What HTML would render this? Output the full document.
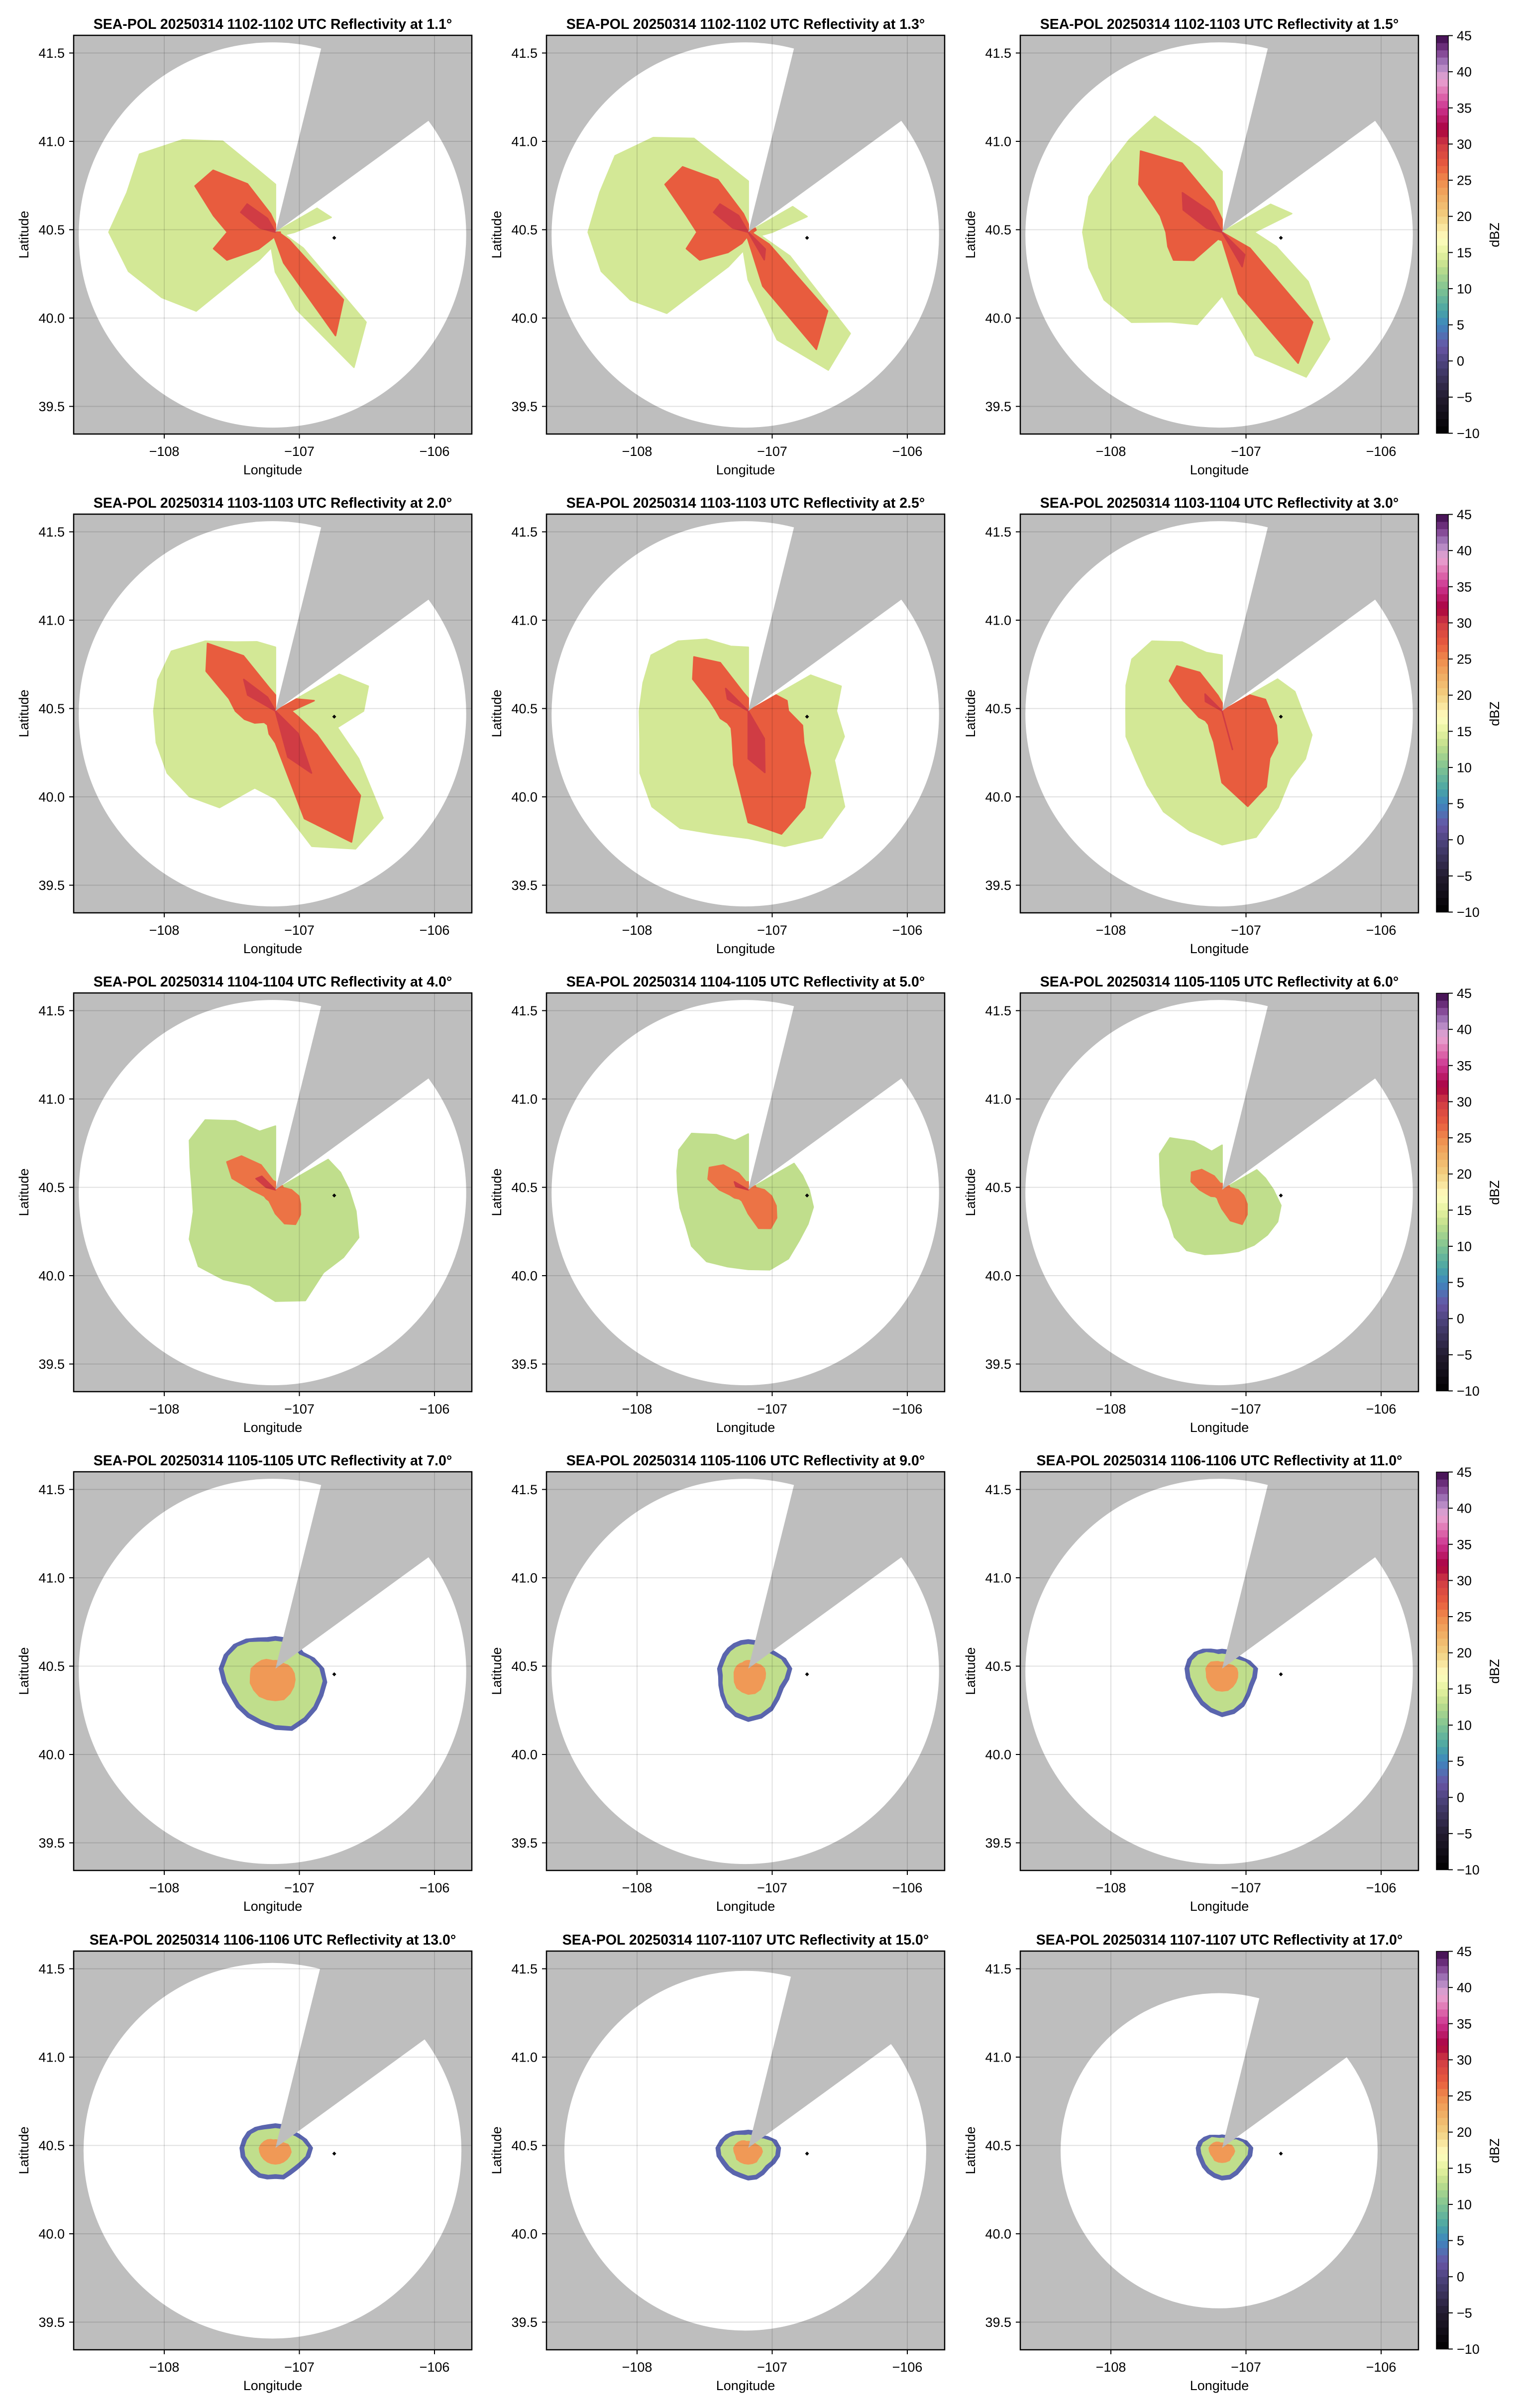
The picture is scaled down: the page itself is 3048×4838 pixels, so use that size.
<!DOCTYPE html>
<html><head><meta charset="utf-8"><title>SEA-POL Reflectivity PPI</title>
<style>
html,body{margin:0;padding:0;background:#fff;}
svg{display:block;font-family:"Liberation Sans",Arial,sans-serif;}
</style></head>
<body>
<svg id="fig" xmlns="http://www.w3.org/2000/svg" width="3048" height="4838" viewBox="0 0 3048 4838"></svg>
<script>
// ---------------- data ----------------
const elevations = [1.1,1.3,1.5,2.0,2.5,3.0,4.0,5.0,6.0,7.0,9.0,11.0,13.0,15.0,17.0];
const scanTimes = ["1102-1102","1102-1102","1102-1103","1103-1103","1103-1103","1103-1104","1104-1104","1104-1105","1105-1105","1105-1105","1105-1106","1106-1106","1106-1106","1107-1107","1107-1107"];
const maxRangeKm = [121,121,121,121,121,121,121,121,121,121,121,121,118,113,99];
const azimuthsDeg = [0,15,30,45,60,75,90,105,120,135,150,165,180,195,210,225,240,255,270,285,300,315,330,345];
// dBZ assigned to each echo layer [outer, core, peak]
const layerDbz = [
 [14,27,30],[14,27,30],[14,27,30],[14,27,30],[14,27,30],[14,27,30],
 [13,26,30],[13,26,30],[13,26,30],
 [3,13,24],[3,13,24],[3,13,24],[3,13,24],[3,13,24],[3,13,24]];
// echo extent (km from radar) per azimuth
const outerKm = [
 [30,0,0,0,30,36,12,6,20,80,98,50,25,10,20,70,82,95,104,96,98,82,66,40],
 [32,0,0,0,32,38,15,8,30,90,100,70,30,12,25,72,85,95,100,96,96,84,68,42],
 [38,0,0,0,35,45,20,35,62,95,105,80,40,60,65,80,85,86,87,86,82,82,84,55],
 [40,0,0,0,46,60,55,40,60,95,100,88,55,50,70,76,78,77,76,76,75,62,50,45],
 [40,0,0,0,45,60,55,62,62,85,92,88,80,80,85,85,78,70,68,68,70,62,52,42],
 [35,0,0,0,40,47,50,58,60,60,70,82,84,78,73,66,62,62,60,62,65,62,50,38],
 [40,0,0,0,38,42,46,52,60,60,60,72,70,62,65,68,62,53,52,55,62,62,50,38],
 [35,0,0,0,33,35,38,42,43,45,50,52,50,50,52,50,45,44,44,46,50,50,40,32],
 [28,0,0,0,25,28,32,38,40,40,40,40,40,42,44,42,38,38,38,40,45,46,35,25],
 [20,20,20,20,20,25,30,33,34,36,38,40,38,36,35,34,33,34,35,33,30,26,22,20],
 [18,18,18,18,20,24,27,26,25,27,30,32,33,31,28,24,21,19,19,18,18,18,18,18],
 [12,12,12,12,14,18,22,22,22,24,27,29,30,28,26,24,23,23,23,22,20,17,14,12],
 [15,15,15,15,17,20,23,22,20,19,19,20,19,20,21,21,21,22,22,21,20,18,16,15],
 [11,11,11,11,14,18,20,20,19,18,19,20,20,19,19,19,19,20,20,18,16,14,12,11],
 [8,8,8,8,12,16,19,19,18,18,19,20,20,19,18,17,16,16,16,15,13,11,9,8]];
const coreKm = [
 [5,0,0,0,0,0,3,3,10,60,75,20,5,3,5,15,35,40,30,40,58,55,35,12],
 [5,0,0,0,5,5,3,3,15,70,85,35,5,3,8,18,35,40,32,40,60,58,38,12],
 [8,0,0,0,0,0,0,0,20,80,95,40,5,5,5,25,35,35,35,40,60,72,50,20],
 [10,0,0,0,15,25,10,15,30,75,95,70,20,15,10,10,15,20,25,30,50,60,40,15],
 [8,0,0,0,20,25,25,35,40,55,70,80,70,35,20,15,15,18,20,25,40,48,35,12],
 [5,0,0,0,20,28,30,35,40,42,55,62,45,20,15,12,12,15,18,25,38,40,28,10],
 [5,0,0,0,5,5,10,15,18,22,25,22,15,10,8,8,8,10,15,28,35,30,18,6],
 [5,0,0,0,5,5,10,15,20,25,28,25,15,10,8,8,10,12,18,26,28,22,12,5],
 [4,0,0,0,5,5,10,14,18,22,25,20,12,8,6,6,8,10,14,20,22,18,10,4],
 [17,17,17,17,17,22,27,30,31,33,35,37,35,33,32,31,30,31,32,30,27,23,19,17],
 [15,15,15,15,17,21,24,23,22,24,27,29,30,28,25,21,18,16,16,15,15,15,15,15],
 [9,9,9,9,11,15,19,19,19,21,24,26,27,25,23,21,20,20,20,19,17,14,11,9],
 [12,12,12,12,14,17,20,19,17,16,16,17,16,17,18,18,18,19,19,18,17,15,13,12],
 [8,8,8,8,11,15,17,17,16,15,16,17,17,16,16,16,16,17,17,15,13,11,9,8],
 [6,6,6,6,10,13,16,16,15,15,16,17,17,16,15,14,13,13,13,12,10,9,7,6]];
const peakKm = [
 [0,0,0,0,0,0,0,0,0,0,0,0,0,0,0,0,0,0,0,10,25,25,10,0],
 [0,0,0,0,0,0,0,0,0,15,20,0,0,0,0,0,0,0,0,10,25,25,12,0],
 [0,0,0,0,0,0,0,0,0,20,25,0,0,0,0,0,0,0,0,10,28,35,15,0],
 [0,0,0,0,0,0,0,0,0,20,45,30,0,0,0,0,0,0,0,0,20,28,10,0],
 [0,0,0,0,0,0,0,0,0,0,20,40,30,0,0,0,0,0,0,0,15,20,0,0],
 [0,0,0,0,0,0,0,0,0,0,0,25,0,0,0,0,0,0,0,0,12,15,0,0],
 [0,0,0,0,0,0,0,0,0,0,0,0,0,0,0,0,0,0,0,6,14,12,0,0],
 [0,0,0,0,0,0,0,0,0,0,0,0,0,0,0,0,0,0,0,8,10,0,0,0],
 [0,0,0,0,0,0,0,0,0,0,0,0,0,0,0,0,0,0,0,0,0,0,0,0],
 [5,5,5,5,6,8,10,12,14,16,18,20,20,20,20,19,18,16,15,12,10,8,6,5],
 [5,5,5,5,6,8,10,11,12,13,15,16,16,15,14,12,10,9,8,7,6,5,5,5],
 [4,4,4,4,5,7,9,10,11,12,13,14,14,14,13,12,11,10,10,9,8,6,5,4],
 [5,5,5,5,6,8,9,10,10,10,10,10,10,10,10,10,10,10,10,9,8,7,6,5],
 [4,4,4,4,5,6,8,9,9,9,10,10,10,10,10,10,9,9,9,8,7,6,5,4],
 [3,3,3,3,4,6,7,8,8,8,9,9,9,9,9,8,8,8,8,7,6,5,4,3]];
const radarLonLat = [-107.177, 40.486];
const rangeCenterLonLat = [-107.199, 40.470];
const markerLonLat = [-106.742, 40.454];
const blockAzDeg = [13.9, 53.8];
const xTicks = [-108,-107,-106];
const yTicks = [41.5,41.0,40.5,40.0,39.5];
const yTickLabels = ["41.5","41.0","40.5","40.0","39.5"];
const cbTicks = [45,40,35,30,25,20,15,10,5,0,-5,-10];

// ---------------- layout ----------------
const NS = "http://www.w3.org/2000/svg";
const svg = document.getElementById('fig');
const colLeft = [148,1098,2050], rowTop = [71,1033,1995,2957,3920];
const W = 800, H = 801;
const cmapStops = [[-10,"#000000"],[-5,"#231c30"],[0,"#4e4580"],[2,"#6855a5"],[5,"#3e86be"],[7,"#4aa5a5"],[10,"#80c392"],[13,"#c0de8c"],[15,"#e6f2a0"],[17,"#fffcc0"],[20,"#f2d080"],[23,"#f0a860"],[25,"#ef8a4c"],[27,"#e85c3e"],[30,"#d03c44"],[32,"#a8003e"],[35,"#cc3490"],[37,"#e070b0"],[39,"#e8a6d4"],[41,"#a880c0"],[43,"#7a3a8a"],[45,"#3a0848"]];
function hex(c){return [parseInt(c.slice(1,3),16),parseInt(c.slice(3,5),16),parseInt(c.slice(5,7),16)];}
function cmap(v){
  for(let i=0;i<cmapStops.length-1;i++){
    const a=cmapStops[i], b=cmapStops[i+1];
    if(v<=b[0]){const t=Math.max(0,(v-a[0])/(b[0]-a[0]));const A=hex(a[1]),B=hex(b[1]);
      return 'rgb('+A.map((x,k)=>Math.round(x+(B[k]-x)*t)).join(',')+')';}
  }
  return cmapStops[cmapStops.length-1][1];
}
function el(tag, attrs, parent){const e=document.createElementNS(NS,tag);for(const k in attrs)e.setAttribute(k,attrs[k]);(parent||svg).appendChild(e);return e;}
function txt(s, attrs, parent){const e=el('text',attrs,parent);e.textContent=s;return e;}
const KM_LAT=111, KM_LON=84.4;

for(let p=0;p<15;p++){
  const r=Math.floor(p/3), c=p%3, L=colLeft[c], T=rowTop[r];
  const xS = lon => L + 182 + (lon+108)*271.5;
  const yS = lat => T + 35.5 + (41.5-lat)*355;
  const pt = (az,km)=>{const a=az*Math.PI/180;return [xS(radarLonLat[0]+km*Math.sin(a)/KM_LON), yS(radarLonLat[1]+km*Math.cos(a)/KM_LAT)];};
  const g = el('g',{});
  
  
  const cid='clip'+p;
  const cp=el('clipPath',{id:cid},g); el('rect',{x:L,y:T,width:W,height:H},cp);
  const plot=el('g',{'clip-path':'url(#'+cid+')'},g);
  const bg=el('rect',{x:L,y:T,width:W,height:H,fill:'#bebebe'},plot);
  
  
  const R=maxRangeKm[p];
  const circ=el('ellipse',{cx:xS(rangeCenterLonLat[0]),cy:yS(rangeCenterLonLat[1]),rx:R/KM_LON*271.5,ry:R/KM_LAT*355,fill:'#ffffff'},plot);
  
  
  const layers=[outerKm[p],coreKm[p],peakKm[p]];
  layers.forEach((arr,li)=>{
    const pts=azimuthsDeg.map((az,i)=>pt(az,arr[i]).map(v=>v.toFixed(1)).join(',')).join(' ');
    const poly=el('polygon',{points:pts,fill:cmap(layerDbz[p][li]),stroke:cmap(layerDbz[p][li]),'stroke-width':3,'stroke-linejoin':'round'},plot);
    
    
  });
  const ap=pt(0,0), w1=pt(blockAzDeg[0],R*2.2), wm=pt((blockAzDeg[0]+blockAzDeg[1])/2,R*2.6), w2=pt(blockAzDeg[1],R*2.2);
  const wedge=el('polygon',{points:[ap,w1,wm,w2].map(q=>q.join(',')).join(' '),fill:'#bebebe'},plot);
  
  
  xTicks.forEach(t=>{const gl=el('line',{x1:xS(t),x2:xS(t),y1:T,y2:T+H,stroke:'rgba(0,0,0,0.12)','stroke-width':2},plot);
    });
  yTicks.forEach(t=>{const gl=el('line',{x1:L,x2:L+W,y1:yS(t),y2:yS(t),stroke:'rgba(0,0,0,0.12)','stroke-width':2},plot);
    });
  const mx=xS(markerLonLat[0]), my=yS(markerLonLat[1]);
  const mk=el('polygon',{points:`${mx},${my-4} ${mx+4},${my} ${mx},${my+4} ${mx-4},${my}`,fill:'#000'},plot);
  
  
  const fr=el('rect',{x:L,y:T,width:W,height:H,fill:'none',stroke:'#000','stroke-width':2.5},g);
  
  
  xTicks.forEach(t=>{
    el('line',{x1:xS(t),x2:xS(t),y1:T+H,y2:T+H+9,stroke:'#000','stroke-width':2},g);
    const tl=txt('\u2212'+Math.abs(t),{x:xS(t),y:T+H+44,'font-size':27,'text-anchor':'middle',fill:'#000'},g);
    
  });
  yTicks.forEach((t,i)=>{
    el('line',{x1:L-9,x2:L,y1:yS(t),y2:yS(t),stroke:'#000','stroke-width':2},g);
    const tl=txt(yTickLabels[i],{x:L-18,y:yS(t)+9.5,'font-size':27,'text-anchor':'end',fill:'#000'},g);
    
  });
  const xl=txt('Longitude',{x:L+W/2,y:T+H+81,'font-size':27,'text-anchor':'middle',fill:'#000'},g);
  
  const yl=txt('Latitude',{x:0,y:0,'font-size':27,'text-anchor':'middle',fill:'#000',transform:`translate(${L-91},${T+H/2}) rotate(-90)`},g);
  
  const tt=txt(`SEA-POL 20250314 ${scanTimes[p]} UTC Reflectivity at ${elevations[p].toFixed(1)}\u00b0`,{x:L+W/2,y:T-13,'font-size':28.5,'font-weight':'bold','text-anchor':'middle',fill:'#000'},g);
  

  if(c===2){
    const cb=el('g',{},g);
    
    
    const cx0=2886, cw=24, cy0=T+0.5, ch=799;
    const cbS = v => cy0 + (45-v)/55*ch;
    for(let v=-10; v<45; v++){
      el('rect',{x:cx0,y:cbS(v+1),width:cw,height:ch/55+0.6,fill:cmap(v+0.5)},cb);
    }
    el('rect',{x:cx0,y:cy0,width:cw,height:ch,fill:'none',stroke:'#000','stroke-width':1.5},cb);
    cbTicks.forEach(t=>{
      el('line',{x1:cx0+cw,x2:cx0+cw+9,y1:cbS(t),y2:cbS(t),stroke:'#000','stroke-width':2},cb);
      const s=(t<0?'\u2212':'')+Math.abs(t);
      const tl=txt(s,{x:cx0+cw+17,y:cbS(t)+9.5,'font-size':27,fill:'#000'},cb);
      
    });
    const cl=txt('dBZ',{x:0,y:0,'font-size':27,'text-anchor':'middle',fill:'#000',transform:`translate(${3012},${T+401}) rotate(-90)`},cb);
    
  }
}
</script>
</body></html>
